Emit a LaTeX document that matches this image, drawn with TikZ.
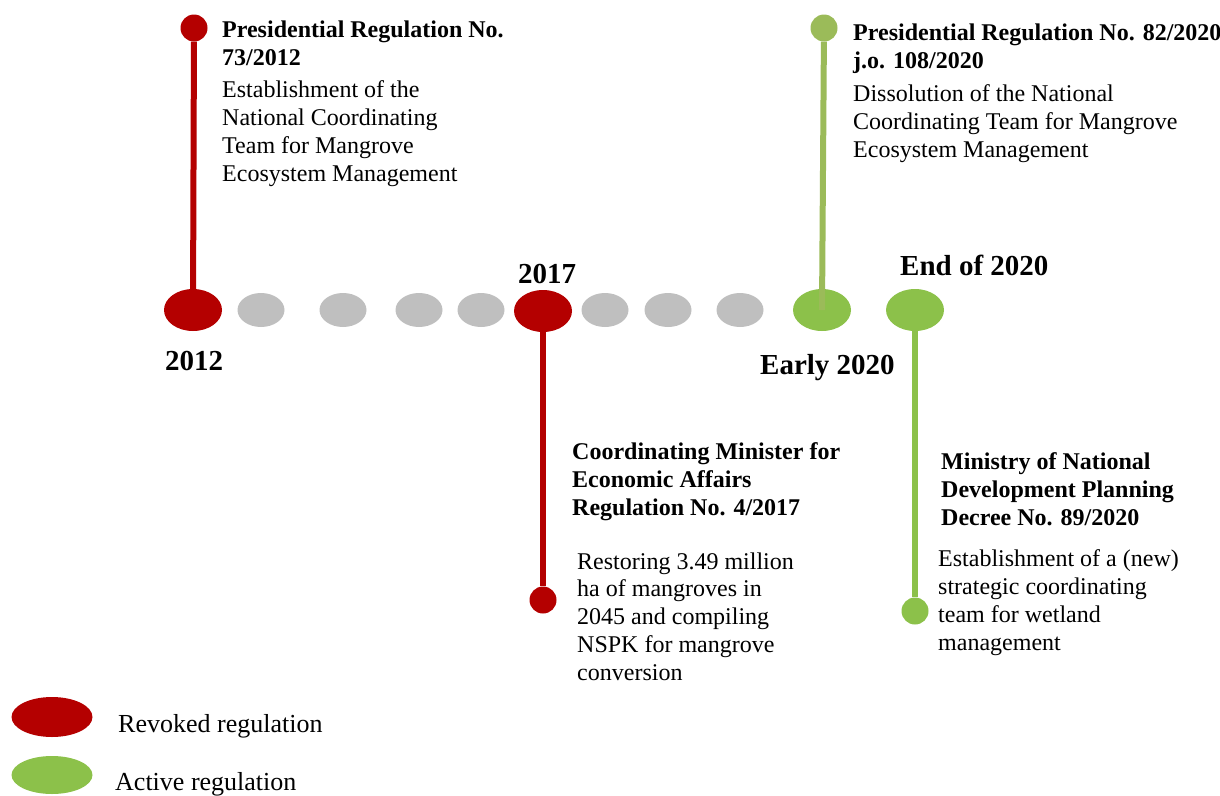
\documentclass[tikz,border=0pt]{standalone}
\usepackage{fontspec}
\setmainfont{Liberation Serif}
\usetikzlibrary{shapes.geometric}

\definecolor{revoked}{RGB}{180,0,0}
\definecolor{active}{RGB}{140,193,74}
\definecolor{olive}{RGB}{155,187,89}
\definecolor{idle}{RGB}{191,191,191}

\tikzset{
  yeardot/.style={ellipse,inner sep=0pt,minimum width=58pt,minimum height=42pt},
  filler/.style={ellipse,fill=idle,inner sep=0pt,minimum width=47pt,minimum height=34pt},
  knob/.style={circle,inner sep=0pt,minimum size=27pt},
  stem/.style={line width=6pt},
  % multi-line nodes sit on the baseline of their last line
  regtitle/.style={anchor=base west,align=left,inner sep=0pt,font=\bfseries\fontsize{24}{28}\selectfont},
  regtext/.style={anchor=base west,align=left,inner sep=0pt,font=\fontsize{24}{27.7}\selectfont},
  yearlbl/.style={anchor=base west,inner sep=0pt,font=\bfseries\fontsize{29}{34}\selectfont},
  keylbl/.style={anchor=base west,inner sep=0pt,font=\fontsize{26}{30}\selectfont},
}

\begin{document}
\begin{tikzpicture}[x=1pt,y=-1pt]
  \useasboundingbox (0,0) rectangle (1220,795);

  % grey years in between
  \foreach \x [count=\i] in {261,343,419,481,605,668,740}
    \node[filler] (g\i) at (\x,310) {};

  % the four dated years
  \node[yeardot,fill=revoked] (y2012) at (193,310) {};
  \node[yeardot,fill=revoked] (y2017) at (543,311) {};
  \node[yeardot,fill=active] (yEarly) at (822,310) {};
  \node[yeardot,fill=active] (yEnd) at (915,310) {};

  % pins up and down
  \node[knob,fill=revoked] (k2012) at (194,28) {};
  \node[knob,fill=revoked] (k2017) at (543,600) {};
  \node[knob,fill=olive] (kEarly) at (824,28) {};
  \node[knob,fill=active] (kEnd) at (915,611) {};

  \draw[stem,revoked] (k2012) -- (y2012);
  \draw[stem,revoked] (y2017) -- (k2017);
  \draw[stem,olive] (kEarly) -- (yEarly.center);
  \draw[stem,active] (yEnd) -- (kEnd);

  % year labels
  \node[yearlbl] (l2012) at (165,370) {2012};
  \node[yearlbl] (l2017) at (518,283) {2017};
  \node[yearlbl] (lEarly) at (760,374) {Early 2020};
  \node[yearlbl] (lEnd) at (900,275) {End of 2020};

  % regulations
  \node[regtitle] (t2012) at (222,65) {Presidential Regulation No.\\73/2012};
  \node[regtext] (d2012) at (222,181) {Establishment of the\\National Coordinating\\Team for Mangrove\\Ecosystem Management};

  \node[regtitle] (tEarly) at (853,68) {Presidential Regulation No. 82/2020\\j.o. 108/2020};
  \node[regtext] (dEarly) at (853,157) {Dissolution of the National\\Coordinating Team for Mangrove\\Ecosystem Management};

  \node[regtitle] (t2017) at (572,515) {Coordinating Minister for\\Economic Affairs\\Regulation No. 4/2017};
  \node[regtext] (d2017) at (577,680) {Restoring 3.49 million\\ha of mangroves in\\2045 and compiling\\NSPK for mangrove\\conversion};

  \node[regtitle] (tEnd) at (941,525) {Ministry of National\\Development Planning\\Decree No. 89/2020};
  \node[regtext] (dEnd) at (938,650) {Establishment of a (new)\\strategic coordinating\\team for wetland\\management};

  % legend
  \node[yeardot,fill=revoked,minimum width=81pt,minimum height=40pt] (keyR) at (52,717) {};
  \node[keylbl] (lR) at (118,732) {Revoked regulation};
  \node[yeardot,fill=active,minimum width=81pt,minimum height=38pt] (keyA) at (52,775) {};
  \node[keylbl] (lA) at (115,790) {Active regulation};
\end{tikzpicture}
\end{document}
